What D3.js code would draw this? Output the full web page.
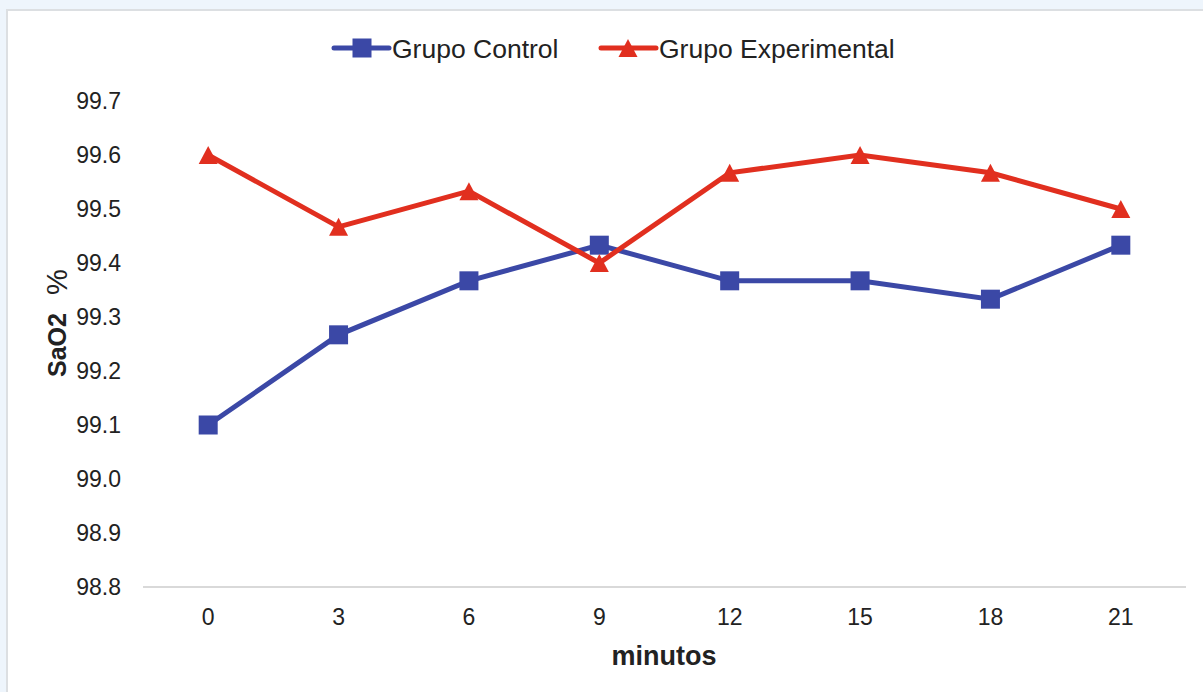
<!DOCTYPE html>
<html>
<head>
<meta charset="utf-8">
<script src="https://cdn.jsdelivr.net/npm/d3@7"></script>
<style>
  html, body { margin: 0; padding: 0; background: #eef5fc; overflow: hidden; }
  svg { display: block; font-family: "Liberation Sans", Arial, sans-serif; }
</style>
</head>
<body>
<svg id="chart" width="1203" height="692"></svg>
<script>
const minutes = ["0", "3", "6", "9", "12", "15", "18", "21"];
const controlValues = [99.1, 99.267, 99.367, 99.433, 99.367, 99.367, 99.333, 99.433];
const experimentalValues = [99.6, 99.467, 99.533, 99.4, 99.567, 99.6, 99.567, 99.5];
const yTicks = [98.8, 98.9, 99.0, 99.1, 99.2, 99.3, 99.4, 99.5, 99.6, 99.7];
const seriesNames = ["Grupo Control", "Grupo Experimental"];

const blue = "#3b48a6";
const red = "#e12f1f";

const svg = d3.select("#chart");

// white panel with grey border
svg.append("rect")
  .attr("x", 7).attr("y", 10)
  .attr("width", 1210).attr("height", 700)
  .attr("fill", "#fff")
  .attr("stroke", "#dcdfe2")
  .attr("stroke-width", 2);

const plot = { left: 143, right: 1186, top: 101, bottom: 587 };

const x = d3.scaleBand().domain(minutes).range([plot.left, plot.right]);
const y = d3.scaleLinear().domain([98.8, 99.7]).range([plot.bottom, plot.top]);
const cx = d => x(d) + x.bandwidth() / 2;

// bottom axis line
svg.append("line")
  .attr("x1", plot.left).attr("x2", plot.right)
  .attr("y1", y(98.8)).attr("y2", y(98.8))
  .attr("stroke", "#d9d9d9").attr("stroke-width", 2);

// y tick labels
svg.selectAll(".ytick")
  .data(yTicks)
  .enter().append("text")
  .attr("x", plot.left - 22)
  .attr("y", d => y(d))
  .attr("dy", "0.36em")
  .attr("text-anchor", "end")
  .attr("font-size", "23px")
  .attr("fill", "#222")
  .text(d => d.toFixed(1));

// x tick labels
svg.selectAll(".xtick")
  .data(minutes)
  .enter().append("text")
  .attr("x", d => cx(d))
  .attr("y", 617)
  .attr("dy", "0.36em")
  .attr("text-anchor", "middle")
  .attr("font-size", "23px")
  .attr("fill", "#222")
  .text(d => d);

// axis titles
svg.append("text")
  .attr("x", 664).attr("y", 655)
  .attr("dy", "0.36em")
  .attr("text-anchor", "middle")
  .attr("font-size", "27px")
  .attr("font-weight", "bold")
  .attr("fill", "#222")
  .text("minutos");

svg.append("text")
  .attr("transform", "translate(57,377) rotate(-90)")
  .attr("dy", "0.36em")
  .attr("text-anchor", "start")
  .attr("font-size", "25px")
  .attr("font-weight", "bold")
  .attr("fill", "#222")
  .text("SaO2");

svg.append("text")
  .attr("transform", "translate(57,282) rotate(-90)")
  .attr("dy", "0.36em")
  .attr("text-anchor", "middle")
  .attr("font-size", "29px")
  .attr("fill", "#222")
  .text("%");

const line = d3.line()
  .x((d, i) => cx(minutes[i]))
  .y(d => y(d));

// triangle marker centred on the point
const tri = "M0,-9L9.5,9L-9.5,9Z";

// control series
svg.append("path")
  .datum(controlValues)
  .attr("d", line)
  .attr("fill", "none")
  .attr("stroke", blue)
  .attr("stroke-width", 5);

svg.selectAll(".sq")
  .data(controlValues)
  .enter().append("rect")
  .attr("x", (d, i) => cx(minutes[i]) - 9.5)
  .attr("y", d => y(d) - 9.5)
  .attr("width", 19).attr("height", 19)
  .attr("fill", blue);

// experimental series
svg.append("path")
  .datum(experimentalValues)
  .attr("d", line)
  .attr("fill", "none")
  .attr("stroke", red)
  .attr("stroke-width", 5);

svg.selectAll(".tri")
  .data(experimentalValues)
  .enter().append("path")
  .attr("d", tri)
  .attr("transform", (d, i) => `translate(${cx(minutes[i])},${y(d)})`)
  .attr("fill", red);

// legend
const legend = [
  { name: seriesNames[0], color: blue, x0: 334, shape: "square" },
  { name: seriesNames[1], color: red, x0: 601, shape: "triangle" }
];
const ly = 48;
legend.forEach(l => {
  svg.append("line")
    .attr("x1", l.x0).attr("x2", l.x0 + 55)
    .attr("y1", ly).attr("y2", ly)
    .attr("stroke", l.color).attr("stroke-width", 5)
    .attr("stroke-linecap", "round");
  if (l.shape === "square") {
    svg.append("rect")
      .attr("x", l.x0 + 28 - 9.5).attr("y", ly - 9.5)
      .attr("width", 19).attr("height", 19)
      .attr("fill", l.color);
  } else {
    svg.append("path")
      .attr("d", tri)
      .attr("transform", `translate(${l.x0 + 27},${ly})`)
      .attr("fill", l.color);
  }
  svg.append("text")
    .attr("x", l.x0 + 58).attr("y", ly)
    .attr("dy", "0.36em")
    .attr("font-size", "26.5px")
    .attr("fill", "#222")
    .text(l.name);
});
</script>
</body>
</html>
